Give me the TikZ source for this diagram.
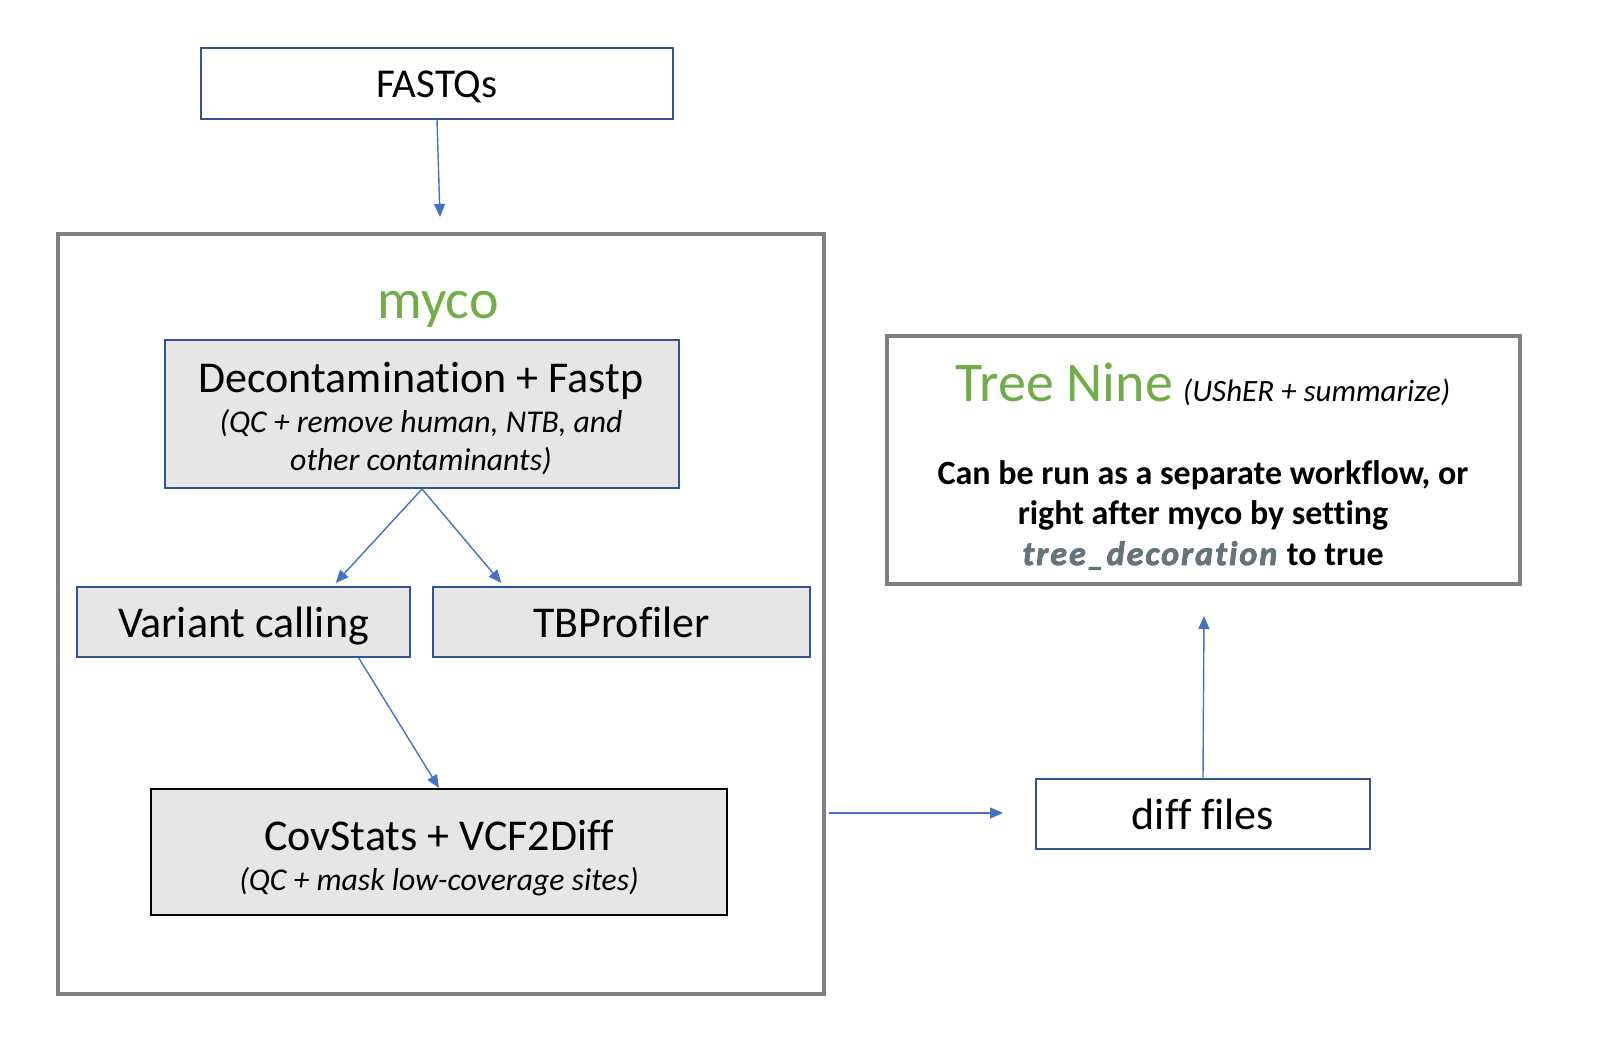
\documentclass[tikz,border=0pt]{standalone}
\usepackage{fontspec}
\setmainfont{Carlito}[Ligatures=CommonOff]
\newfontfamily\codefont{Carlito}[Ligatures=CommonOff, UprightFont={* Italic}, FakeBold=2.4, LetterSpace=6]
\usetikzlibrary{arrows.meta,calc}
\definecolor{boxblue}{HTML}{2F5597}
\definecolor{arrowblue}{HTML}{4472C4}
\definecolor{framegray}{HTML}{808080}
\definecolor{fillgray}{HTML}{E6E6E6}
\definecolor{mygreen}{HTML}{70AD47}
\definecolor{codegray}{HTML}{65737C}
\tikzset{
  bluebox/.style={draw=boxblue, line width=2pt, rectangle, inner sep=0pt, align=center},
  graybox/.style={bluebox, fill=fillgray},
  frame/.style={draw=framegray, line width=4pt, rectangle, inner sep=0pt},
  flow/.style={draw=arrowblue, line width=1.4pt, -{Triangle[length=13pt,width=11pt]}},
  big/.style={font=\fontsize{44}{50}\selectfont, text height=31pt, text depth=0pt},
  sub/.style={font=\fontsize{31.7}{38}\selectfont\itshape, align=center, inner sep=0pt},
}
\begin{document}
\begin{tikzpicture}[x=1pt,y=-1pt]
\useasboundingbox (0,0) rectangle (1600,1040);

% top input
\node[bluebox, font=\fontsize{41}{48}\selectfont, text height=29pt, text depth=0pt,
      minimum width=472pt, minimum height=71pt] (fastq) at (437,83.5) {FASTQs};

% myco frame
\node[frame, minimum width=766pt, minimum height=760pt] (myco) at (441,614) {};
\node[font=\fontsize{56}{60}\selectfont, text=mygreen, inner sep=0pt] (mycotitle) at (438,309) {myco};

% decontamination
\node[graybox, minimum width=514pt, minimum height=148pt] (dec) at (422,414) {};
\node[big, inner sep=0pt] (dectitle) at (421,377) {Decontamination + Fastp};
\node[sub] (decsub) at (421,442) {(QC + remove human, NTB, and\\other contaminants)};

% variant calling and TBProfiler
\node[graybox, big, minimum width=333pt, minimum height=70pt] (var) at (243.5,622) {Variant calling};
\node[graybox, big, minimum width=377pt, minimum height=70pt] (tbp) at (621.5,622) {TBProfiler};

% covstats
\node[graybox, draw=black, minimum width=576pt, minimum height=126pt] (cov) at (439,852) {};
\node[big, inner sep=0pt] (covtitle) at (439,835) {CovStats + VCF2Diff};
\node[sub] (covsub) at (439,881.5) {(QC + mask low-coverage sites)};

% diff files
\node[bluebox, big, minimum width=334pt, minimum height=70pt] (diff) at (1203,814) {diff files};

% Tree Nine
\node[frame, minimum width=633pt, minimum height=248pt] (tree) at (1203.5,460) {};
\node[inner sep=0pt] (treetitle) at (1203,384)
  {{\fontsize{56}{60}\selectfont\color{mygreen}Tree Nine}\hspace{10pt}{\fontsize{31}{34}\selectfont\itshape (UShER + summarize)}};
\node[font=\fontsize{34}{40.5}\selectfont\bfseries, align=center, inner sep=0pt] (treetext) at (1203,515)
  {Can be run as a separate workflow, or\\right after myco by setting\\{\codefont\color{codegray}tree\_decoration}\hspace{2pt} to true};

% connector ends
\coordinate (intop) at (440,217);
\coordinate (outstart) at (829,813);
\coordinate (outend) at (1003,813);
\coordinate (treebot) at (1204,616);

% connectors
\draw[flow] (fastq.south) -- (intop);
\draw[flow] (dec.south) -- ($(var.north west)!0.775!(var.north east)+(0,-3)$);
\draw[flow] (dec.south) -- ($(tbp.north west)!0.183!(tbp.north east)+(0,-3)$);
\draw[flow] ($(var.south west)!0.844!(var.south east)$) -- (cov.north);
\draw[flow] (outstart) -- (outend);
\draw[flow] (diff.north) -- (treebot);
\end{tikzpicture}
\end{document}
